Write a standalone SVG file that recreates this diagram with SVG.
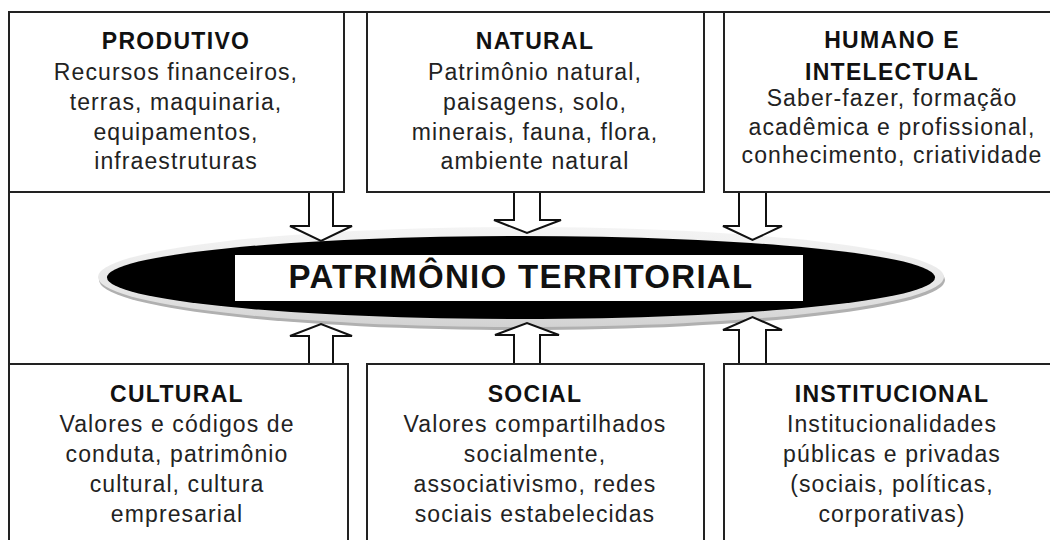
<svg xmlns="http://www.w3.org/2000/svg" width="1050" height="540" viewBox="0 0 1050 540">
  <defs>
    <linearGradient id="rimGrad" x1="0" y1="0" x2="0" y2="1">
      <stop offset="0" stop-color="#f4f4f4"/>
      <stop offset="0.6" stop-color="#e6e6e6"/>
      <stop offset="1" stop-color="#d2d2d2"/>
    </linearGradient>
  </defs>
  <style>
    .box { fill: #ffffff; stroke: #222222; stroke-width: 2; }
    .frame { fill: none; stroke: #222222; stroke-width: 2; }
    .arrow { fill: #ffffff; stroke: #111111; stroke-width: 2; stroke-linejoin: miter; }
    .title { font-family: "Liberation Sans", Arial, sans-serif; font-weight: bold; font-size: 23px; letter-spacing: 1.3px; fill: #111111; text-anchor: middle; }
    .body { font-family: "Liberation Sans", Arial, sans-serif; font-size: 23px; letter-spacing: 1.1px; fill: #222222; text-anchor: middle; }
    .center { font-family: "Liberation Sans", Arial, sans-serif; font-weight: bold; font-size: 33px; letter-spacing: 1.3px; fill: #111111; text-anchor: middle; }
  </style>
  <rect width="1050" height="540" fill="#ffffff"/>
  <rect class="frame" x="9" y="12" width="1060" height="600"/>

  <g id="patrimonio-territorial">
    <ellipse cx="522" cy="280" rx="423" ry="50" fill="#b0b0b0"/>
    <ellipse cx="521" cy="277" rx="423" ry="50" fill="url(#rimGrad)"/>
    <ellipse cx="521" cy="277.5" rx="414" ry="41.5" fill="#000000"/>
    <rect x="235" y="255" width="568" height="46" fill="#ffffff"/>
    <text class="center" x="521" y="288">PATRIMÔNIO TERRITORIAL</text>
  </g>

  <g id="connectors">
    <path class="arrow" d="M309,192 V226 H290 L321,241 L352,226 H333 V192 Z"/>
    <path class="arrow" d="M514,192 V220 H494 L527,233 L561,220 H540 V192 Z"/>
    <path class="arrow" d="M739,192 V226 H723 L752.5,240 L782,226 H766 V192 Z"/>
    <path class="arrow" d="M309,364 V336 H290 L321,324 L352,336 H333 V364 Z"/>
    <path class="arrow" d="M514,364 V335 H495 L527,323 L559,335 H540 V364 Z"/>
    <path class="arrow" d="M739,364 V330 H723 L752.5,317 L782,330 H766 V364 Z"/>
  </g>

  <g id="produtivo">
    <rect class="box" x="9" y="12" width="335" height="180"/>
    <text class="title" x="176" y="49">PRODUTIVO</text>
    <text class="body" x="176" y="80">Recursos financeiros,</text>
    <text class="body" x="176" y="110">terras, maquinaria,</text>
    <text class="body" x="176" y="140">equipamentos,</text>
    <text class="body" x="176" y="169">infraestruturas</text>
  </g>

  <g id="natural">
    <rect class="box" x="367" y="12" width="337" height="180"/>
    <text class="title" x="535" y="49">NATURAL</text>
    <text class="body" x="535" y="80">Patrimônio natural,</text>
    <text class="body" x="535" y="110">paisagens, solo,</text>
    <text class="body" x="535" y="140">minerais, fauna, flora,</text>
    <text class="body" x="535" y="169">ambiente natural</text>
  </g>

  <g id="humano-intelectual">
    <rect class="box" x="724" y="12" width="345" height="180"/>
    <text class="title" x="892" y="48">HUMANO E</text>
    <text class="title" x="892" y="80">INTELECTUAL</text>
    <text class="body" x="892" y="106">Saber-fazer, formação</text>
    <text class="body" x="892" y="135">acadêmica e profissional,</text>
    <text class="body" x="892" y="163">conhecimento, criatividade</text>
  </g>

  <g id="cultural">
    <rect class="box" x="9" y="364" width="339" height="200"/>
    <text class="title" x="177" y="402">CULTURAL</text>
    <text class="body" x="177" y="432">Valores e códigos de</text>
    <text class="body" x="177" y="462">conduta, patrimônio</text>
    <text class="body" x="177" y="492">cultural, cultura</text>
    <text class="body" x="177" y="522">empresarial</text>
  </g>

  <g id="social">
    <rect class="box" x="367" y="364" width="337" height="200"/>
    <text class="title" x="535" y="402">SOCIAL</text>
    <text class="body" x="535" y="432">Valores compartilhados</text>
    <text class="body" x="535" y="462">socialmente,</text>
    <text class="body" x="535" y="492">associativismo, redes</text>
    <text class="body" x="535" y="522">sociais estabelecidas</text>
  </g>

  <g id="institucional">
    <rect class="box" x="724" y="364" width="345" height="200"/>
    <text class="title" x="892" y="402">INSTITUCIONAL</text>
    <text class="body" x="892" y="432">Institucionalidades</text>
    <text class="body" x="892" y="462">públicas e privadas</text>
    <text class="body" x="892" y="492">(sociais, políticas,</text>
    <text class="body" x="892" y="522">corporativas)</text>
  </g>
</svg>
